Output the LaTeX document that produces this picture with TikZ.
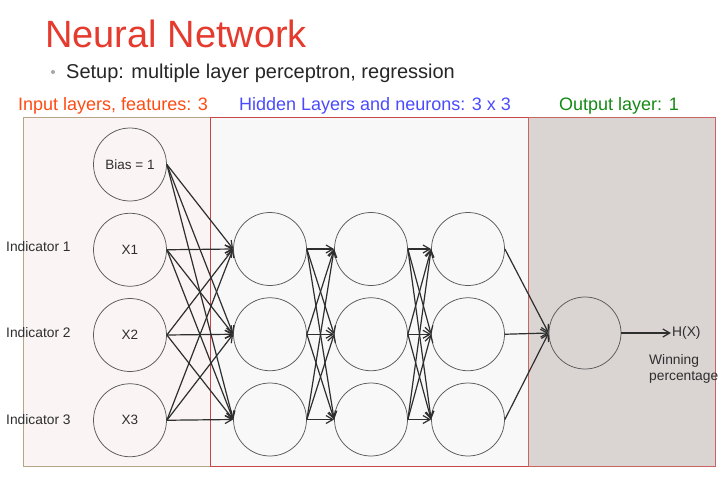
\documentclass[tikz,border=0pt]{standalone}
\usepackage{fontspec}
\setmainfont{Liberation Sans}
\usetikzlibrary{arrows.meta,positioning}
\definecolor{titlered}{HTML}{E53A2E}
\definecolor{inorange}{HTML}{FF4A12}
\definecolor{hidblue}{HTML}{4A4AFF}
\definecolor{outgreen}{HTML}{148A14}
\definecolor{infill}{HTML}{FAF5F4}
\definecolor{inedge}{HTML}{B8A486}
\definecolor{hidfill}{HTML}{F8F8F8}
\definecolor{hidedge}{HTML}{C84646}
\definecolor{outfill}{HTML}{DAD5D3}
\definecolor{outedge}{HTML}{C86464}
\definecolor{ringgray}{HTML}{5A5A5A}
\definecolor{wiregray}{HTML}{2E2E2E}

\begin{document}
\begin{tikzpicture}[
  x=1pt, y=-1pt,
  node distance=11.5pt,
  neuron/.style={circle, draw=ringgray, line width=0.75pt, minimum size=73pt, inner sep=0pt, font=\fontsize{13.5}{16}\selectfont, text=wiregray},
  arrow/.style={-{Straight Barb[length=7pt,width=8pt]}, draw=wiregray, line width=1.2pt},
  header/.style={anchor=base west, inner sep=0pt, font=\fontsize{18}{21}\selectfont},
  side/.style={anchor=west, inner sep=0pt, font=\fontsize{13.8}{16}\selectfont, text=wiregray}
]
  \useasboundingbox (0,0) rectangle (724,482);
  % panels
  \filldraw[fill=infill, draw=inedge, line width=0.9pt] (23,117) rectangle (210,466);
  \filldraw[fill=hidfill, draw=hidedge, line width=0.9pt] (210,117) rectangle (528,466);
  \filldraw[fill=outfill, draw=outedge, line width=0.9pt] (528,117) rectangle (715,466);

  % titles
  \node[anchor=base west, inner sep=0pt, font=\fontsize{38}{44}\selectfont, text=titlered] (title) at (45,47) {Neural Network};
  \fill[gray!70] (53,72) circle (2pt);
  \node[anchor=base west, inner sep=0pt, font=\fontsize{20}{24}\selectfont, text=black!85] (setup) at (66,78) {Setup: multiple layer perceptron, regression};
  \node[header, text=inorange] (inhead) at (18,110) {Input layers, features: 3};
  \node[header, text=hidblue] (hidhead) at (239,110) {Hidden Layers and neurons: 3 x 3};
  \node[header, text=outgreen] (outhead) at (559,110) {Output layer: 1};

  % input layer
  \node[neuron] (bias) at (130,164.5) {Bias = 1};
  \node[neuron, below=of bias] (x1) {X1};
  \node[neuron, below=of x1] (x2) {X2};
  \node[neuron, below=of x2] (x3) {X3};
  \node[side] (ind1) at (6,247) {Indicator 1};
  \node[side] (ind2) at (6,333) {Indicator 2};
  \node[side] (ind3) at (6,420) {Indicator 3};

  % hidden layers
  \node[neuron] (h11) at (270,249) {};
  \node[neuron, below=of h11] (h12) {};
  \node[neuron, below=of h12] (h13) {};
  \node[neuron] (h21) at (371,249) {};
  \node[neuron, below=of h21] (h22) {};
  \node[neuron, below=of h22] (h23) {};
  \node[neuron] (h31) at (468,249) {};
  \node[neuron, below=of h31] (h32) {};
  \node[neuron, below=of h32] (h33) {};

  % output layer
  \node[neuron, minimum size=72pt] (out) at (585,333) {};
  \node[side, inner sep=1pt] (hx) at (671,333) {H(X)};
  \node[side, align=left] (win) at (649,369) {Winning\\percentage};

  % connections
  \foreach \s in {bias,x1,x2,x3}
    \foreach \t in {h11,h12,h13}
      \draw[arrow] (\s.east) -- (\t.west);
  \foreach \i in {1,2,3}
    \foreach \j in {1,2,3} {
      \draw[arrow] (h1\i.east) -- (h2\j.west);
      \draw[arrow] (h2\i.east) -- (h3\j.west);
    }
  \foreach \i in {1,2,3}
    \draw[arrow] (h3\i.east) -- (out.west);
  \draw[arrow] (out.east) -- (hx.west);
\end{tikzpicture}
\end{document}
